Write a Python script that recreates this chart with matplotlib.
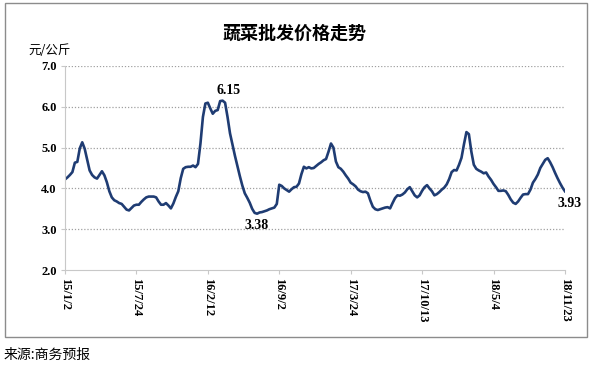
import matplotlib
matplotlib.use('Agg')
import matplotlib.pyplot as plt
import matplotlib.patches as patches
import numpy as np
import pandas as pd

# weekly vegetable wholesale price, yuan/kg, from 2015-01-02
prices = [
    4.22, 4.27, 4.33, 4.40, 4.63, 4.65, 4.98, 5.13, 4.97, 4.70,
    4.44, 4.33, 4.27, 4.24, 4.33, 4.42, 4.32, 4.15, 3.93, 3.78,
    3.71, 3.68, 3.64, 3.62, 3.55, 3.48, 3.46, 3.52, 3.58, 3.60,
    3.60, 3.67, 3.73, 3.78, 3.80, 3.80, 3.80, 3.78, 3.68, 3.60,
    3.60, 3.64, 3.58, 3.51, 3.63, 3.79, 3.93, 4.25, 4.48, 4.52,
    4.53, 4.53, 4.56, 4.52, 4.60, 5.10, 5.75, 6.08, 6.10, 5.96,
    5.83, 5.90, 5.92, 6.14, 6.15, 6.10, 5.75, 5.35, 5.07, 4.80,
    4.55, 4.30, 4.07, 3.88, 3.77, 3.65, 3.50, 3.40, 3.38, 3.41,
    3.42, 3.44, 3.46, 3.49, 3.51, 3.53, 3.62, 4.09, 4.06, 4.00,
    3.96, 3.92, 3.98, 4.03, 4.04, 4.12, 4.35, 4.53, 4.49, 4.52,
    4.49, 4.50, 4.55, 4.60, 4.64, 4.69, 4.72, 4.90, 5.10, 5.00,
    4.66, 4.52, 4.48, 4.41, 4.32, 4.24, 4.14, 4.10, 4.05, 3.97,
    3.93, 3.91, 3.92, 3.88, 3.70, 3.55, 3.49, 3.47, 3.49, 3.51,
    3.53, 3.54, 3.51, 3.64, 3.76, 3.83, 3.82, 3.85, 3.90, 3.98,
    4.03, 3.93, 3.83, 3.78, 3.83, 3.94, 4.03, 4.08, 4.00, 3.93,
    3.83, 3.86, 3.91, 3.97, 4.02, 4.10, 4.23, 4.40, 4.45, 4.44,
    4.58, 4.75, 5.08, 5.38, 5.33, 4.90, 4.58, 4.48, 4.44, 4.41,
    4.37, 4.39, 4.29, 4.21, 4.11, 4.03, 3.94, 3.94, 3.95, 3.93,
    3.84, 3.73, 3.65, 3.62, 3.68, 3.77, 3.85, 3.86, 3.86, 3.97,
    4.14, 4.23, 4.34, 4.50, 4.60, 4.70, 4.74, 4.64, 4.52, 4.38,
    4.25, 4.13, 4.02, 3.93,
]
dates = pd.date_range('2015-01-02', periods=len(prices), freq='7D')
tick_labels = ['15/1/2', '15/7/24', '16/2/12', '16/9/2',
               '17/3/24', '17/10/13', '18/5/4', '18/11/23']
y_ticks = [2.0, 3.0, 4.0, 5.0, 6.0, 7.0]

cjk = ['Noto Sans CJK SC', 'DejaVu Sans']
serif = 'Liberation Serif'

fig = plt.figure(figsize=(5.98, 3.67), dpi=100)
ax = fig.add_axes([0.1087, 0.2643, 0.836, 0.5559])

ax.plot(dates, prices, color='#1f3c73', lw=1.9, solid_joinstyle='round')

ax.set_xlim(dates[0], dates[-1])
ax.set_ylim(2.0, 7.0)
ax.set_xticks(dates[::29])
ax.set_xticklabels(tick_labels, rotation=-90, fontfamily=serif,
                   fontweight='bold', fontsize=9, va='top')
ax.set_yticks(y_ticks)
ax.set_yticklabels(['%.1f' % v for v in y_ticks], fontfamily=serif,
                   fontweight='bold', fontsize=9)
ax.tick_params(axis='both', length=3, color='#c8c8c8', pad=3)

for v in y_ticks[1:]:
    ax.axhline(v, color='#a0a0a0', lw=0.9, ls=(0, (1, 1.5)), zorder=0)

for s in ['top', 'right']:
    ax.spines[s].set_visible(False)
ax.spines['left'].set_color('#c8c8c8')
ax.spines['bottom'].set_color('#c8c8c8')

# annotations
i_max = int(np.argmax(prices))
i_min = int(np.argmin(prices))
ax.annotate('%.2f' % prices[i_max], (dates[i_max], prices[i_max]),
            xytext=(4, 3), textcoords='offset points', ha='center',
            va='bottom', fontfamily=serif, fontweight='bold', fontsize=10)
ax.annotate('%.2f' % prices[i_min], (dates[i_min], prices[i_min]),
            xytext=(0, -4), textcoords='offset points', ha='center',
            va='top', fontfamily=serif, fontweight='bold', fontsize=10)
ax.annotate('%.2f' % prices[-1], (dates[-1], prices[-1]),
            xytext=(3, -4), textcoords='offset points', ha='center',
            va='top', fontfamily=serif, fontweight='bold', fontsize=10)

fig.text(0.493, 0.91, '蔬菜批发价格走势', family=cjk, fontsize=13,
         fontweight='bold', ha='center', va='center')
fig.text(0.048, 0.862, '元/公斤', family=cjk, fontsize=9,
         ha='left', va='center')
fig.text(0.006, 0.033, '来源:商务预报', family=cjk, fontsize=10,
         ha='left', va='center')

fig.patches.append(patches.Rectangle((0.0084, 0.0817), 0.9732, 0.910,
                                     transform=fig.transFigure, fill=False,
                                     edgecolor='#8c8c8c', lw=1.0))

fig.savefig('out.png', dpi=100)
